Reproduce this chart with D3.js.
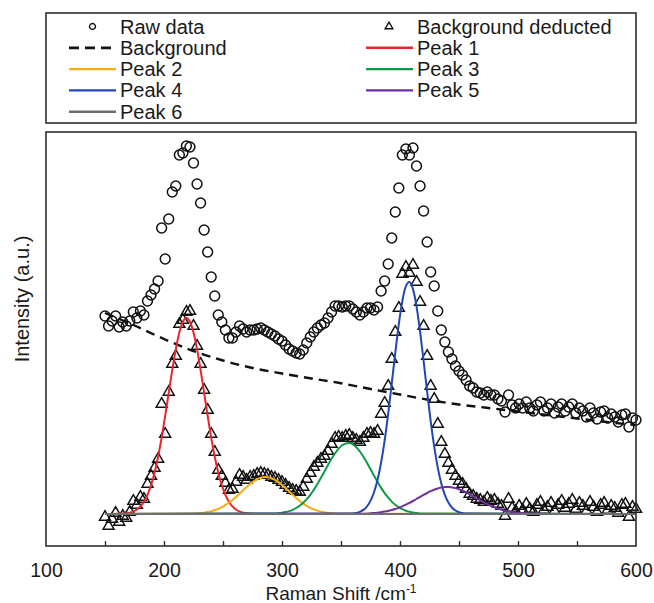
<!DOCTYPE html>
<html>
<head>
<meta charset="utf-8">
<script src="https://cdn.jsdelivr.net/npm/d3@7"></script>
<style>
  body { margin: 0; background: #fff; }
  svg { display: block; }
  text { font-family: "Liberation Sans", Arial, sans-serif; fill: #1a1a1a; }
</style>
</head>
<body>
<div id="chart"></div>
<script>
// Raman shift grid (cm-1) shared by the raw and background-deducted points
const ramanShift = [150,153,156,159,162,165,168,171,174,177,180,183,186,189,192,195,198,201,204,207,
  210,213,216,219,222,225,228,231,234,237,240,243,246,249,252,255,258,261,264,267,
  270,273,276,279,282,285,288,291,294,297,300,303,306,309,312,315,318,321,324,327,
  330,333,336,339,342,345,348,351,354,357,360,363,366,369,372,375,378,381,384,387,
  390,393,396,399,402,405,408,411,414,417,420,423,426,429,432,435,438,441,444,447,
  450,453,456,459,462,465,468,471,474,477,480,483,486,489,492,495,498,501,504,507,
  510,513,516,519,522,525,528,531,534,537,540,543,546,549,552,555,558,561,564,567,
  570,573,576,579,582,585,588,591,594,597,600];

// Raw data (circles), a.u.
const rawIntensity = [198,188,193,198,187,192,188,193,202,196,203,199,213,219,225,233,286,255,295,322,
  328,359,361,368,367,351,330,311,284,262,237,218,199,192,184,176,176,182,188,185,
  182,184,184,185,186,184,182,180,178,175,173,169,165,163,161,160,164,171,177,182,
  186,189,191,196,202,208,208,207,208,208,205,202,199,202,206,206,204,207,223,233,
  250,276,302,326,359,365,359,366,348,328,303,272,242,228,203,184,172,162,155,148,
  143,139,134,128,126,122,121,119,122,119,119,115,113,102,119,109,106,110,106,112,
  106,103,109,112,103,106,110,101,107,110,103,107,110,101,106,103,97,106,101,95,
  102,103,96,100,97,92,99,100,87,96,94];

// Background deducted (triangles), a.u.
const deductedIntensity = [-3,-12,-5,1,-8,-2,-4,2,13,9,17,15,30,38,46,55,110,80,122,150,
  158,190,194,202,203,188,168,150,124,104,80,62,44,38,31,24,25,32,39,37,
  34,37,38,40,41,40,39,37,36,34,32,29,26,24,23,22,27,35,41,47,
  51,55,58,63,70,76,77,76,78,79,76,74,72,76,80,81,80,83,100,111,
  128,155,182,206,240,247,241,249,232,212,188,158,128,115,90,72,60,51,44,38,
  33,30,25,20,18,15,14,12,16,13,14,10,8,-2,15,6,3,8,4,10,
  5,2,9,12,4,7,11,3,9,13,6,10,14,5,11,8,3,12,7,2,
  9,11,4,8,6,1,9,10,-3,7,5];

// Fitted background (dashed)
const backgroundShift = [150,175,200,225,250,275,300,325,350,375,400,425,450,475,500,525,550,575,600];
const backgroundLevel = [201,188.5,175,163,153.5,146,140.5,135.5,130.8,125,119.5,114,109.5,106,102.5,99,95.5,92,89];

// Fitted peaks, [shift, intensity]
const peak1 = [[150,0],[156,0],[159,0.1],[162,0.2],[165,0.4],[168,0.8],[171,1.4],[174,2.6],[177,4.5],[180,7.6],
  [183,12.3],[186,19.1],[189,28.7],[192,41.3],[195,57.3],[198,76.4],[201,98.1],[204,121.2],[207,144.1],[210,164.9],
  [213,181.5],[216,192.3],[219,196],[222,192.3],[225,181.5],[228,164.9],[231,144.1],[234,121.2],[237,98.1],[240,76.4],
  [243,57.3],[246,41.3],[249,28.7],[252,19.1],[255,12.3],[258,7.6],[261,4.5],[264,2.6],[267,1.4],[270,0.8],
  [273,0.4],[276,0.2],[282,0],[600,0]];
const peak2 = [[150,0],[225,0.4],[228,0.6],[231,0.9],[234,1.3],[237,1.9],[240,2.7],[243,3.8],[246,5.1],[249,6.8],
  [252,8.8],[255,11.3],[258,14.0],[261,17.1],[264,20.3],[267,23.7],[270,27.0],[273,30.0],[276,32.7],[279,34.8],
  [282,36.3],[285,37.0],[288,36.8],[291,35.9],[294,34.2],[297,31.9],[300,29.0],[303,25.9],[306,22.6],[309,19.2],
  [312,16.0],[315,13.1],[318,10.4],[321,8.1],[324,6.2],[327,4.6],[330,3.4],[333,2.4],[336,1.7],[339,1.1],
  [342,0.8],[345,0.5],[348,0.3],[600,0]];
const peak3 = [[150,0],[294,0.5],[297,0.8],[300,1.3],[303,2.0],[306,2.9],[309,4.2],[312,6.0],[315,8.3],[318,11.3],
  [321,14.9],[324,19.2],[327,24.3],[330,30.0],[333,36.2],[336,42.6],[339,49.1],[342,55.3],[345,60.8],[348,65.4],
  [351,68.8],[354,70.6],[357,70.9],[360,69.6],[363,66.7],[366,62.5],[369,57.2],[372,51.2],[375,44.8],[378,38.3],
  [381,32.0],[384,26.1],[387,20.8],[390,16.3],[393,12.4],[396,9.2],[399,6.7],[402,4.8],[405,3.3],[408,2.3],
  [411,1.5],[414,1.0],[417,0.6],[420,0.4],[600,0]];
const peak4 = [[150,0],[360,0.5],[363,1.1],[366,2.2],[369,4.1],[372,7.5],[375,13.1],[378,21.7],[381,34.2],[384,51.5],
  [387,73.7],[390,100.4],[393,130.4],[396,161.2],[399,189.9],[402,213.1],[405,227.8],[408,232.0],[411,224.9],[414,207.7],
  [417,182.7],[420,153.1],[423,122.2],[426,92.9],[429,67.3],[432,46.4],[435,30.5],[438,19.1],[441,11.4],[444,6.5],
  [447,3.5],[450,1.8],[453,0.9],[456,0.4],[600,0]];
const peak5 = [[150,0],[369,0.3],[375,0.7],[378,1.0],[381,1.3],[384,1.8],[387,2.4],[390,3.1],[393,4.0],[396,5.0],
  [399,6.3],[402,7.7],[405,9.3],[408,11.1],[411,13.0],[414,15.0],[417,17.1],[420,19.1],[423,21.0],[426,22.8],
  [429,24.3],[432,25.5],[435,26.4],[438,26.9],[441,27.0],[444,26.6],[447,25.9],[450,24.8],[453,23.3],[456,21.6],
  [459,19.7],[462,17.7],[465,15.7],[468,13.7],[471,11.7],[474,9.9],[477,8.2],[480,6.7],[483,5.4],[486,4.3],
  [489,3.4],[492,2.6],[495,2.0],[498,1.5],[501,1.1],[504,0.8],[507,0.5],[510,0.4],[516,0.2],[525,0.1],[600,0]];
const peak6 = [[150,0],[600,0]];

const xTickLabels = [100,200,300,400,500,600];
const xMinorTicks = [150,200,250,300,350,400,450,500,550];

if (rawIntensity.length !== ramanShift.length || deductedIntensity.length !== ramanShift.length) {
  throw new Error("length mismatch " + ramanShift.length + " " + rawIntensity.length + " " + deductedIntensity.length);
}

const width = 654, height = 603;
const plot = { left: 46, right: 636, top: 132, bottom: 546 };
const fontSize = 20;
const ink = "#1a1a1a";

const svg = d3.select("#chart").append("svg")
  .attr("width", width)
  .attr("height", height);

const x = d3.scaleLinear().domain([100, 600]).range([plot.left, plot.right]);
const y = d3.scaleLinear().domain([-32, 382]).range([plot.bottom, plot.top]);

const curve = d3.line()
  .x(d => x(d[0]))
  .y(d => y(d[1]))
  .curve(d3.curveMonotoneX);

// Markers: raw data circles, then the background deducted triangles
const circleSym = d3.symbol().type(d3.symbolCircle).size(76);
const triSym = d3.symbol().type(d3.symbolTriangle).size(52);

svg.append("g").selectAll("path")
  .data(ramanShift.map((s, i) => [s, rawIntensity[i]]))
  .join("path")
  .attr("d", circleSym)
  .attr("transform", d => "translate(" + x(d[0]) + "," + y(d[1]) + ")")
  .attr("fill", "none")
  .attr("stroke", "#111")
  .attr("stroke-width", 1.5);

svg.append("g").selectAll("path")
  .data(ramanShift.map((s, i) => [s, deductedIntensity[i]]))
  .join("path")
  .attr("d", triSym)
  .attr("transform", d => "translate(" + x(d[0]) + "," + y(d[1]) + ")")
  .attr("fill", "none")
  .attr("stroke", "#111")
  .attr("stroke-width", 1.5);

// Fitted lines
const series = [
  { name: "Background", data: backgroundShift.map((s, i) => [s, backgroundLevel[i]]), color: "#111", dash: "9,6", w: 2.4 },
  { name: "Peak 1", data: peak1, color: "#e8262b", w: 2 },
  { name: "Peak 2", data: peak2, color: "#f6ad14", w: 2 },
  { name: "Peak 3", data: peak3, color: "#0c9a48", w: 2 },
  { name: "Peak 4", data: peak4, color: "#2148b0", w: 2 },
  { name: "Peak 5", data: peak5, color: "#7030a0", w: 2 },
  { name: "Peak 6", data: peak6, color: "#6e6e6e", w: 2.2 }
];

svg.append("g").selectAll("path")
  .data(series)
  .join("path")
  .attr("d", d => curve(d.data))
  .attr("fill", "none")
  .attr("stroke", d => d.color)
  .attr("stroke-width", d => d.w)
  .attr("stroke-dasharray", d => d.dash || null);

// Plot frame
svg.append("rect")
  .attr("x", plot.left).attr("y", plot.top)
  .attr("width", plot.right - plot.left).attr("height", plot.bottom - plot.top)
  .attr("fill", "none").attr("stroke", "#2e2e2e").attr("stroke-width", 1.6);

// x ticks point inward, labels every 100
const tickAxis = svg.append("g")
  .attr("transform", "translate(0," + plot.bottom + ")")
  .call(d3.axisBottom(x).tickValues(xMinorTicks).tickSizeInner(-5).tickSizeOuter(0).tickFormat(""));
tickAxis.select(".domain").remove();
tickAxis.selectAll("line").attr("stroke", "#2e2e2e").attr("stroke-width", 1.4);

const labelAxis = svg.append("g")
  .attr("transform", "translate(0," + plot.bottom + ")")
  .call(d3.axisBottom(x).tickValues(xTickLabels).tickSize(0).tickPadding(17).tickFormat(d3.format("d")));
labelAxis.select(".domain").remove();
labelAxis.selectAll("text")
  .attr("font-size", 19.5)
  .attr("font-family", "Liberation Sans, Arial, sans-serif")
  .attr("fill", ink);

// Axis titles
const xTitle = svg.append("text")
  .attr("x", (plot.left + plot.right) / 2)
  .attr("y", 600)
  .attr("text-anchor", "middle")
  .attr("font-size", 19);
xTitle.append("tspan").text("Raman Shift /cm");
xTitle.append("tspan").attr("font-size", 12).attr("dy", -7).text("-1");

svg.append("text")
  .attr("transform", "translate(29,299) rotate(-90)")
  .attr("text-anchor", "middle")
  .attr("font-size", fontSize)
  .text("Intensity (a.u.)");

// Legend box
svg.append("rect")
  .attr("x", plot.left).attr("y", 13)
  .attr("width", plot.right - plot.left).attr("height", 110)
  .attr("fill", "none").attr("stroke", "#2e2e2e").attr("stroke-width", 1.6);

const legendItems = [
  { label: "Raw data", kind: "circle" },
  { label: "Background deducted", kind: "triangle" },
  { label: "Background", kind: "line", s: series[0] },
  { label: "Peak 1", kind: "line", s: series[1] },
  { label: "Peak 2", kind: "line", s: series[2] },
  { label: "Peak 3", kind: "line", s: series[3] },
  { label: "Peak 4", kind: "line", s: series[4] },
  { label: "Peak 5", kind: "line", s: series[5] },
  { label: "Peak 6", kind: "line", s: series[6] }
];
const colX = [69, 366];
const rowY0 = 26.5, rowStep = 21.3;

const item = svg.append("g").selectAll("g")
  .data(legendItems)
  .join("g")
  .attr("transform", (d, i) => "translate(" + colX[i % 2] + "," + (rowY0 + Math.floor(i / 2) * rowStep) + ")");

item.filter(d => d.kind === "line").append("line")
  .attr("x1", 0).attr("x2", 47).attr("y1", 0).attr("y2", 0)
  .attr("stroke", d => d.s.color)
  .attr("stroke-width", d => d.s.w + 0.4)
  .attr("stroke-dasharray", d => d.s.dash ? "10,6" : null);

item.filter(d => d.kind === "circle").append("path")
  .attr("d", d3.symbol().type(d3.symbolCircle).size(28))
  .attr("transform", "translate(23.5,0)")
  .attr("fill", "none").attr("stroke", "#111").attr("stroke-width", 1.4);

item.filter(d => d.kind === "triangle").append("path")
  .attr("d", d3.symbol().type(d3.symbolTriangle).size(26))
  .attr("transform", "translate(23,0)")
  .attr("fill", "none").attr("stroke", "#111").attr("stroke-width", 1.4);

item.append("text")
  .attr("x", 51)
  .attr("y", 7)
  .attr("font-size", fontSize)
  .text(d => d.label);
</script>
</body>
</html>
